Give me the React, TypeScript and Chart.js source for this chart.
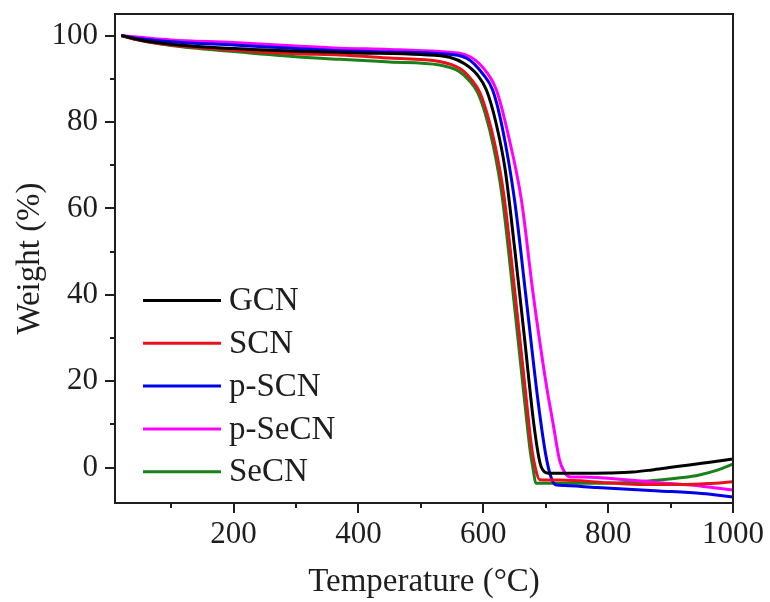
import React, { useEffect, useRef } from 'react';
import { Chart, registerables } from 'chart.js';

Chart.register(...registerables);

const seriesNames = ['GCN', 'SCN', 'p-SCN', 'p-SeCN', 'SeCN'];
const seriesColors = ['#000000', '#E8121C', '#0000E8', '#FF00FF', '#1A801A'];

const gcnT = [20, 50, 100, 200, 300, 400, 500, 546, 570, 590, 605, 620, 635, 650, 666, 681, 691, 698, 705, 750, 800, 839, 870, 898, 930, 960, 1000];
const gcnW = [100, 99.0, 98.0, 97.0, 96.4, 96.0, 95.6, 95.0, 93.5, 91.0, 87.4, 80, 69, 51, 30, 10, 1, -1.0, -1.3, -1.3, -1.25, -1.05, -0.55, 0.0, 0.6, 1.2, 2.0];

const scnT = [20, 50, 100, 200, 300, 370, 450, 530, 563, 581, 594, 606, 619, 633, 651, 668, 678, 684, 690, 722, 800, 855, 919, 960, 1000];
const scnW = [100, 98.9, 97.8, 96.6, 95.8, 95.5, 94.8, 94.0, 92.3, 89.8, 87.0, 82, 74.5, 63, 40, 17, 4, -0.5, -2.8, -2.9, -3.5, -3.9, -3.9, -3.7, -3.3];

const pscnT = [20, 50, 100, 200, 300, 370, 450, 530, 573, 600, 615, 630, 650, 668, 688, 700, 708, 716, 722, 782, 882, 950, 1000];
const pscnW = [100, 99.3, 98.6, 97.8, 97.0, 96.5, 96.2, 95.8, 94.8, 91.0, 87.4, 79, 62, 40, 15, 3, -2.0, -4.0, -4.1, -4.6, -5.4, -6.0, -6.8];

const psecnT = [20, 50, 100, 200, 300, 370, 450, 530, 573, 600, 621, 640, 661, 680, 700, 712, 722, 730, 738, 760, 782, 882, 950, 1000];
const psecnW = [100, 99.6, 99.0, 98.4, 97.6, 97.1, 96.8, 96.3, 95.5, 92.5, 87.4, 77, 62, 40, 20, 10, 1.8, -1.0, -2.1, -2.2, -2.3, -3.5, -4.3, -5.2];

const secnT = [20, 50, 100, 200, 300, 370, 450, 530, 560, 578, 591, 603, 616, 630, 648, 665, 675, 680, 684, 700, 800, 850, 882, 920, 946, 975, 1000];
const secnW = [100, 98.9, 97.7, 96.3, 95.1, 94.5, 93.9, 93.2, 91.8, 89.5, 86.8, 82, 74.5, 63, 40, 17, 4, -0.5, -3.6, -3.6, -3.6, -3.3, -2.85, -2.3, -1.7, -0.6, 0.8];

const seriesT = [gcnT, scnT, pscnT, psecnT, secnT];
const seriesW = [gcnW, scnW, pscnW, psecnW, secnW];

const xMajorTicks = [200, 400, 600, 800, 1000];
const xMinorTicks = [100, 300, 500, 700, 900];
const yMajorTicks = [0, 20, 40, 60, 80, 100];
const yMinorTicks = [10, 30, 50, 70, 90];

const xTitle = 'Temperature (°C)';
const yTitle = 'Weight (%)';

const FONT = "'Liberation Serif', 'Times New Roman', serif";
const TEXT_COLOR = '#1e1e1e';

const framePlugin = {
  id: 'frameAndLegend',
  afterDraw(chart: any) {
    const { ctx, chartArea } = chart;
    const xs = chart.scales.x;
    const ys = chart.scales.y;
    ctx.save();
    ctx.strokeStyle = '#1e1e1e';
    ctx.lineWidth = 2;
    ctx.strokeRect(chartArea.left, chartArea.top, chartArea.right - chartArea.left, chartArea.bottom - chartArea.top);
    ctx.lineWidth = 2;
    const drawX = (vals: number[], len: number) => {
      vals.forEach((v) => {
        const px = Math.round(xs.getPixelForValue(v));
        ctx.beginPath();
        ctx.moveTo(px, chartArea.bottom);
        ctx.lineTo(px, chartArea.bottom + len);
        ctx.stroke();
      });
    };
    const drawY = (vals: number[], len: number) => {
      vals.forEach((v) => {
        const py = Math.round(ys.getPixelForValue(v));
        ctx.beginPath();
        ctx.moveTo(chartArea.left, py);
        ctx.lineTo(chartArea.left - len, py);
        ctx.stroke();
      });
    };
    drawX(xMajorTicks, 10);
    drawX(xMinorTicks, 5);
    drawY(yMajorTicks, 10);
    drawY(yMinorTicks, 5);

    // legend
    const rowStart = 300.5;
    const rowGap = 42.8;
    ctx.font = `33px ${FONT}`;
    ctx.textBaseline = 'middle';
    ctx.textAlign = 'left';
    seriesNames.forEach((name, i) => {
      const y = rowStart + i * rowGap;
      ctx.strokeStyle = seriesColors[i];
      ctx.lineWidth = 3;
      ctx.beginPath();
      ctx.moveTo(143, y);
      ctx.lineTo(221, y);
      ctx.stroke();
      ctx.fillStyle = TEXT_COLOR;
      ctx.fillText(name, 229, y + 1);
    });
    ctx.restore();
  },
};

export default function App() {
  const canvasRef = useRef<HTMLCanvasElement | null>(null);

  useEffect(() => {
    document.body.style.margin = '0';
    const canvas = canvasRef.current;
    if (!canvas) return;
    const datasets = seriesNames.map((name, i) => ({
      label: name,
      data: seriesT[i].map((t, j) => ({ x: t, y: seriesW[i][j] })),
      borderColor: seriesColors[i],
      backgroundColor: seriesColors[i],
      borderWidth: 3,
      pointRadius: 0,
      fill: false,
      cubicInterpolationMode: 'monotone' as const,
    }));
    const chart = new Chart(canvas, {
      type: 'line',
      data: { datasets },
      options: {
        responsive: false,
        animation: false,
        layout: { padding: { left: 0, right: 37, top: 14, bottom: 0 } },
        plugins: {
          legend: { display: false },
          tooltip: { enabled: false },
        },
        scales: {
          x: {
            type: 'linear',
            min: 10,
            max: 1000,
            afterBuildTicks: (s: any) => {
              s.ticks = xMajorTicks.map((v) => ({ value: v }));
            },
            afterFit: (s: any) => {
              s.height = 99;
              s.paddingLeft = 0;
              s.paddingRight = 0;
            },
            grid: { display: false, drawTicks: false },
            border: { display: false },
            ticks: {
              font: { family: FONT, size: 31 },
              color: TEXT_COLOR,
              padding: 13,
              maxRotation: 0,
              autoSkip: false,
              callback: (v: any) => String(v),
            },
            title: {
              display: true,
              text: xTitle,
              font: { family: FONT, size: 33 },
              color: TEXT_COLOR,
              padding: { top: 0, bottom: 0 },
            },
          },
          y: {
            type: 'linear',
            min: -8.2,
            max: 105,
            afterBuildTicks: (s: any) => {
              s.ticks = yMajorTicks.map((v) => ({ value: v }));
            },
            afterFit: (s: any) => {
              s.width = 115;
              s.paddingTop = 0;
              s.paddingBottom = 0;
            },
            grid: { display: false, drawTicks: false },
            border: { display: false },
            ticks: {
              font: { family: FONT, size: 31 },
              color: TEXT_COLOR,
              padding: 17,
              autoSkip: false,
              callback: (v: any) => String(v),
            },
            title: {
              display: true,
              text: yTitle,
              font: { family: FONT, size: 33 },
              color: TEXT_COLOR,
              padding: { top: 11, bottom: 0 },
            },
          },
        },
      },
      plugins: [framePlugin],
    });
    return () => chart.destroy();
  }, []);

  return (
    <div style={{ width: 770, height: 602 }}>
      <canvas ref={canvasRef} width={770} height={602} />
    </div>
  );
}
